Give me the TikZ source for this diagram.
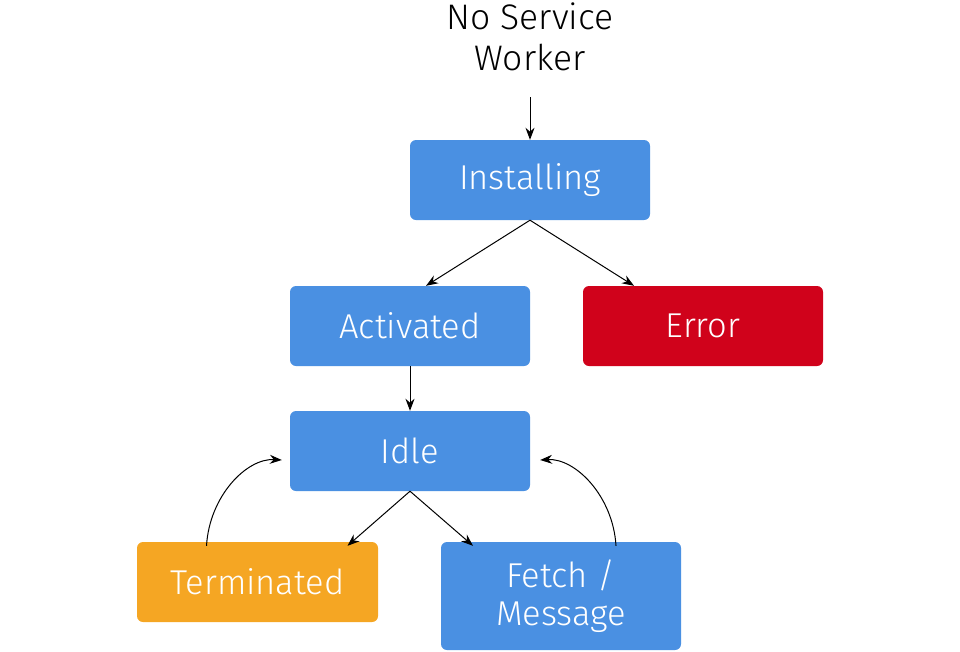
\documentclass[tikz,border=0pt]{standalone}
\usepackage{fontspec}
\setmainfont{Fira Sans}[UprightFont=* Light]
\usetikzlibrary{arrows.meta}
\definecolor{sblue}{RGB}{74,144,226}
\definecolor{sred}{RGB}{208,2,27}
\definecolor{sorange}{RGB}{245,166,35}
\tikzset{
  box/.style={rectangle, rounded corners=6pt, minimum width=240pt, minimum height=80pt,
    inner sep=0pt, text=white, font=\fontsize{34.5}{38}\selectfont, align=center},
  conn/.style={draw=black, line width=1pt, -{Stealth[length=12pt,width=9pt]}},
}
\begin{document}
\begin{tikzpicture}[x=1pt,y=-1pt]
\useasboundingbox (0,0) rectangle (960,651);
\node[font=\fontsize{35.5}{41}\selectfont, align=center, text=black] (nsw) at (530,37) {No Service\\Worker};
\coordinate (nswb) at (530,97);
\node[box, fill=sblue] (inst) at (530,180) {Installing};
\node[box, fill=sblue] (act) at (410,326) {Activated};
\node[box, fill=sred] (err) at (703,326) {Error};
\node[box, fill=sblue] (idle) at (410,451) {Idle};
\node[box, fill=sorange, minimum width=241pt] (term) at (257.5,582) {Terminated};
\node[box, fill=sblue, minimum height=108pt] (fetch) at (561,596) {Fetch /\\Message};
\draw[conn] (nswb) -- (inst.north);
\draw[conn] (inst.south) -- ([xshift=16pt]act.north);
\draw[conn] (inst.south) -- ([xshift=-69pt]err.north);
\draw[conn] (act.south) -- (idle.north);
\draw[conn] (idle.south) -- ([xshift=90pt,yshift=-4pt]term.north);
\draw[conn] (idle.south) -- ([xshift=-88pt,yshift=-4pt]fetch.north);
\draw[conn] ([xshift=-51pt,yshift=-4pt]term.north) .. controls +(3,-50) and +(-35,-2) .. ([xshift=-8pt,yshift=-9pt]idle.west);
\draw[conn] ([xshift=55pt,yshift=-4pt]fetch.north) .. controls +(-3,-50) and +(35,-2) .. ([xshift=10pt,yshift=-9pt]idle.east);
\end{tikzpicture}
\end{document}
